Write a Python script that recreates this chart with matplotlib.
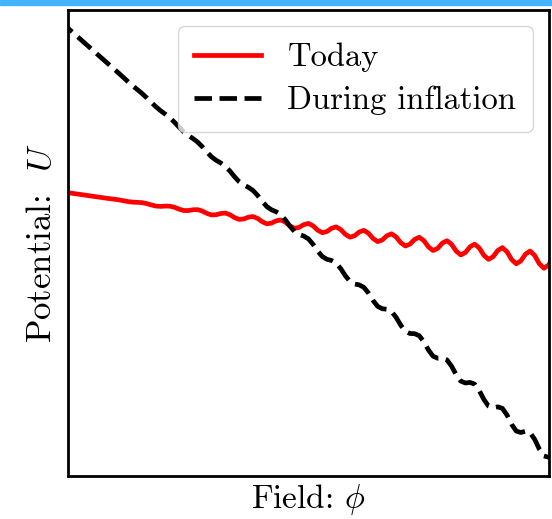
import matplotlib
matplotlib.use("Agg")
import matplotlib.pyplot as plt
from matplotlib.patches import Rectangle

plt.rcParams["font.family"] = "serif"
plt.rcParams["font.serif"] = ["cmr10"]
plt.rcParams["mathtext.fontset"] = "cm"
plt.rcParams["axes.formatter.use_mathtext"] = True

# potential today: slow tilt, wiggles growing with the field
u_today = [
    61.06, 60.92, 60.78, 60.64, 60.50, 60.36, 60.22, 60.07, 59.93, 59.79,
    59.65, 59.51, 59.39, 59.25, 59.06, 58.88, 58.76, 58.72, 58.65, 58.45,
    58.16, 57.92, 57.86, 57.92, 57.90, 57.66, 57.26, 56.97, 56.96, 57.13,
    57.16, 56.86, 56.36, 56.02, 56.06, 56.33, 56.42, 56.07, 55.46, 55.06,
    55.16, 55.54, 55.68, 55.27, 54.56, 54.11, 54.26, 54.75, 54.94, 54.48,
    53.66, 53.16, 53.36, 53.95, 54.20, 53.69, 52.76, 52.21, 52.46, 53.16,
    53.46, 52.89, 51.86, 51.25, 51.56, 52.36, 52.72, 52.10, 50.96, 50.30,
    50.66, 51.57, 51.97, 51.30, 50.06, 49.35, 49.76, 50.77, 51.23, 50.51,
    49.16, 48.39, 48.86, 49.98, 50.49, 49.72, 48.26, 47.44, 47.96, 49.19,
    49.75, 48.92, 47.36, 46.49, 47.06, 48.39, 49.01, 48.13, 46.46, 45.54,
    46.16, 47.60, 48.27, 47.33, 45.56, 44.58, 45.26, 46.80,
]

# potential during inflation: steep tilt, same wiggles
u_inflation = [
    97.78, 96.90, 96.03, 95.15, 94.27, 93.39, 92.51, 91.63, 90.75, 89.87,
    89.00, 88.12, 87.25, 86.37, 85.46, 84.55, 83.69, 82.88, 82.06, 81.14,
    80.15, 79.20, 78.38, 77.65, 76.86, 75.90, 74.84, 73.85, 73.07, 72.41,
    71.66, 70.67, 69.53, 68.50, 67.76, 67.18, 66.47, 65.44, 64.22, 63.15,
    62.45, 61.95, 61.27, 60.20, 58.91, 57.80, 57.13, 56.71, 56.08, 54.97,
    53.59, 52.45, 51.82, 51.48, 50.88, 49.73, 48.28, 47.10, 46.51, 46.25,
    45.69, 44.50, 42.97, 41.75, 41.20, 41.01, 40.49, 39.27, 37.66, 36.40,
    35.89, 35.78, 35.30, 34.03, 32.35, 31.05, 30.58, 30.54, 30.10, 28.80,
    27.04, 25.70, 25.27, 25.31, 24.91, 23.57, 21.73, 20.35, 19.96, 20.08,
    19.71, 18.33, 16.42, 15.00, 14.65, 14.84, 14.52, 13.10, 11.10, 9.65,
    9.33, 9.61, 9.32, 7.86, 5.79, 4.30, 4.02, 4.37,
]

labels = ["Today", "During inflation"]

fig = plt.figure(figsize=(5.52, 5.19), dpi=100)
ax = fig.add_axes([68 / 552, 43 / 519, 481 / 552, 466 / 519])

ax.plot(u_today, color="red", lw=3.4, label=labels[0],
        solid_joinstyle="round")
ax.plot(u_inflation, color="black", lw=3.4, ls="--", label=labels[1],
        dash_joinstyle="round")

ax.set_xlim(1.93, 106.1)
ax.set_ylim(0, 100)
ax.set_xticks([])
ax.set_yticks([])
for sp in ax.spines.values():
    sp.set_linewidth(2)

ax.set_xlabel(r"Field: $\phi$", fontsize=24, labelpad=4.5)
ax.set_ylabel(r"Potential:  $U$", fontsize=25, labelpad=7)

ax.legend(loc="upper right", fontsize=23.5, handlelength=2.05,
          labelspacing=0.42, borderpad=0.5)

# thin blue strip along the top edge
fig.patches.append(Rectangle((0, 1 - 5 / 519), 1, 5 / 519,
                             transform=fig.transFigure,
                             color="#45b4fe", zorder=10))

fig.savefig("out.png", dpi=100)
